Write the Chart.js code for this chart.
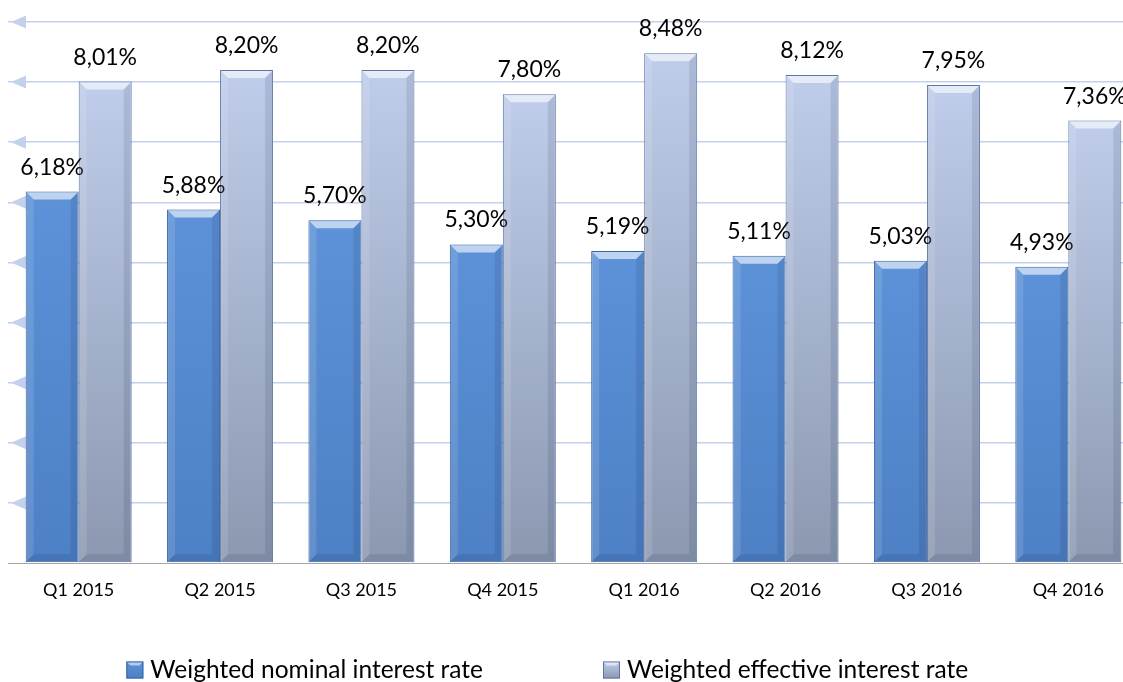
<!DOCTYPE html>
<html><head><meta charset="utf-8">
<script src="https://cdn.jsdelivr.net/npm/chart.js@4.4.1/dist/chart.umd.min.js"></script>
<style>
html,body{margin:0;padding:0;overflow:hidden;background:#fff;width:1123px;height:682px}
#wrap{position:absolute;left:0;top:0;width:1145px;height:682px}
</style>
</head><body>
<div id="wrap"><canvas id="c"></canvas></div>
<script>
const categories = ['Q1 2015','Q2 2015','Q3 2015','Q4 2015','Q1 2016','Q2 2016','Q3 2016','Q4 2016'];
const nominalRates = [6.18, 5.88, 5.70, 5.30, 5.19, 5.11, 5.03, 4.93];
const effectiveRates = [8.01, 8.20, 8.20, 7.80, 8.48, 8.12, 7.95, 7.36];
const seriesNames = ['Weighted nominal interest rate', 'Weighted effective interest rate'];
const yMin = 0, yMax = 9, yStep = 1;

const FONT = 'Lato, "Open Sans", sans-serif';
const styles = [
  {top:'#5d92d8', bottom:'#4d80c5', border:'#3a64a0'},
  {top:'#bfcdea', bottom:'#8c98b0', border:'#5b76a6'}
];

function fmt(v){ return v.toFixed(2).replace('.', ',') + '%'; }

function grad(i){
  return (ctx) => {
    const ch = ctx.chart, ys = ch.scales && ch.scales.y;
    if (!ys || ctx.raw === undefined || !ch.chartArea) return styles[i].top;
    const top = ys.getPixelForValue(ctx.raw), bot = ys.getPixelForValue(0);
    if (!isFinite(top) || !isFinite(bot) || top === bot) return styles[i].top;
    const g = ch.ctx.createLinearGradient(0, top, 0, bot);
    g.addColorStop(0, styles[i].top);
    g.addColorStop(1, styles[i].bottom);
    return g;
  };
}

const arrowPlugin = {
  id: 'arrows',
  beforeDatasetsDraw(chart){
    const y = chart.scales.y, c = chart.ctx;
    c.save();
    c.fillStyle = '#c3d1ec';
    y.ticks.forEach(t => {
      if (t.value === 0) return;
      const py = y.getPixelForValue(t.value);
      c.beginPath();
      c.moveTo(11, py);
      c.lineTo(26, py - 6.5);
      c.lineTo(26, py + 6.5);
      c.closePath();
      c.fill();
    });
    c.restore();
  }
};

const bevelPlugin = {
  id: 'bevel',
  afterDatasetsDraw(chart){
    const c = chart.ctx;
    chart.data.datasets.forEach((ds, di) => {
      const meta = chart.getDatasetMeta(di);
      meta.data.forEach((bar, i) => {
        const p = bar.getProps(['x','y','base','width'], true);
        const l = p.x - p.width/2, r = p.x + p.width/2, t = p.y, b = p.base;
        const k = 8;
        c.save();
        c.fillStyle = 'rgba(255,255,255,0.6)';
        c.beginPath(); c.moveTo(l+1,t+1); c.lineTo(r-1,t+1); c.lineTo(r-k,t+k); c.lineTo(l+k,t+k); c.closePath(); c.fill();
        c.fillStyle = 'rgba(255,255,255,0.12)';
        c.beginPath(); c.moveTo(l+1,t+1); c.lineTo(l+k,t+k); c.lineTo(l+k,b-k); c.lineTo(l+1,b-1); c.closePath(); c.fill();
        c.fillStyle = 'rgba(0,20,60,0.10)';
        c.beginPath(); c.moveTo(r-1,t+1); c.lineTo(r-k,t+k); c.lineTo(r-k,b-k); c.lineTo(r-1,b-1); c.closePath(); c.fill();
        c.fillStyle = 'rgba(0,20,60,0.10)';
        c.beginPath(); c.moveTo(l+1,b-1); c.lineTo(r-1,b-1); c.lineTo(r-k,b-k); c.lineTo(l+k,b-k); c.closePath(); c.fill();
        c.restore();
        c.save();
        c.font = '23px ' + FONT;
        c.fillStyle = '#000';
        c.textAlign = 'center';
        c.textBaseline = 'alphabetic';
        c.fillText(fmt(ds.data[i]), p.x, t - 17);
        c.restore();
      });
    });
  }
};

const legendPlugin = {
  id: 'customLegend',
  afterDraw(chart){
    const c = chart.ctx;
    c.save();
    c.font = '24.5px ' + FONT;
    const box = 17, gapText = 7, gapItems = 120, cy = 670;
    const widths = chart.data.datasets.map(ds => box + gapText + c.measureText(ds.label).width);
    const secondStart = 603;
    const starts = [secondStart - gapItems - widths[0], secondStart];
    chart.data.datasets.forEach((ds, i) => {
      const x = starts[i];
      const g = c.createLinearGradient(0, cy-box/2, 0, cy+box/2);
      g.addColorStop(0, styles[i].top); g.addColorStop(1, styles[i].bottom);
      c.fillStyle = g;
      c.fillRect(x, cy-box/2, box, box);
      c.strokeStyle = styles[i].border; c.lineWidth = 1;
      c.strokeRect(x+0.5, cy-box/2+0.5, box-1, box-1);
      c.fillStyle = 'rgba(255,255,255,0.55)';
      c.beginPath(); c.moveTo(x+1, cy-box/2+1); c.lineTo(x+box-1, cy-box/2+1); c.lineTo(x+box-4, cy-box/2+4); c.lineTo(x+4, cy-box/2+4); c.closePath(); c.fill();
      c.fillStyle = '#000';
      c.textAlign = 'left'; c.textBaseline = 'middle';
      c.fillText(ds.label, x + box + gapText, cy);
    });
    c.restore();
  }
};

new Chart(document.getElementById('c'), {
  type: 'bar',
  data: {
    labels: categories,
    datasets: [
      {label: seriesNames[0], data: nominalRates, backgroundColor: grad(0), borderColor: styles[0].border, borderWidth: 1, borderSkipped: false},
      {label: seriesNames[1], data: effectiveRates, backgroundColor: grad(1), borderColor: styles[1].border, borderWidth: 1, borderSkipped: false}
    ]
  },
  options: {
    responsive: true,
    maintainAspectRatio: false,
    animation: false,
    layout: {padding: {left: 8, right: 6, top: 22, bottom: 74}},
    datasets: {bar: {categoryPercentage: 0.75, barPercentage: 1}},
    plugins: {legend: {display: false}, tooltip: {enabled: false}},
    scales: {
      x: {
        grid: {display: false, drawTicks: false},
        border: {display: true, color: '#a6a6a6', width: 1},
        ticks: {font: {family: FONT, size: 18}, color: '#000', padding: 16, maxRotation: 0},
        afterFit(s){ s.height = 45; }
      },
      y: {
        min: yMin, max: yMax,
        ticks: {display: false, stepSize: yStep},
        border: {display: false},
        grid: {drawTicks: false, color: (ctx) => ctx.tick && ctx.tick.value === 0 ? 'rgba(0,0,0,0)' : '#c3d1ec', lineWidth: 1.5},
        afterFit(s){ s.width = 0; }
      }
    }
  },
  plugins: [arrowPlugin, bevelPlugin, legendPlugin]
});
</script>
</body></html>
